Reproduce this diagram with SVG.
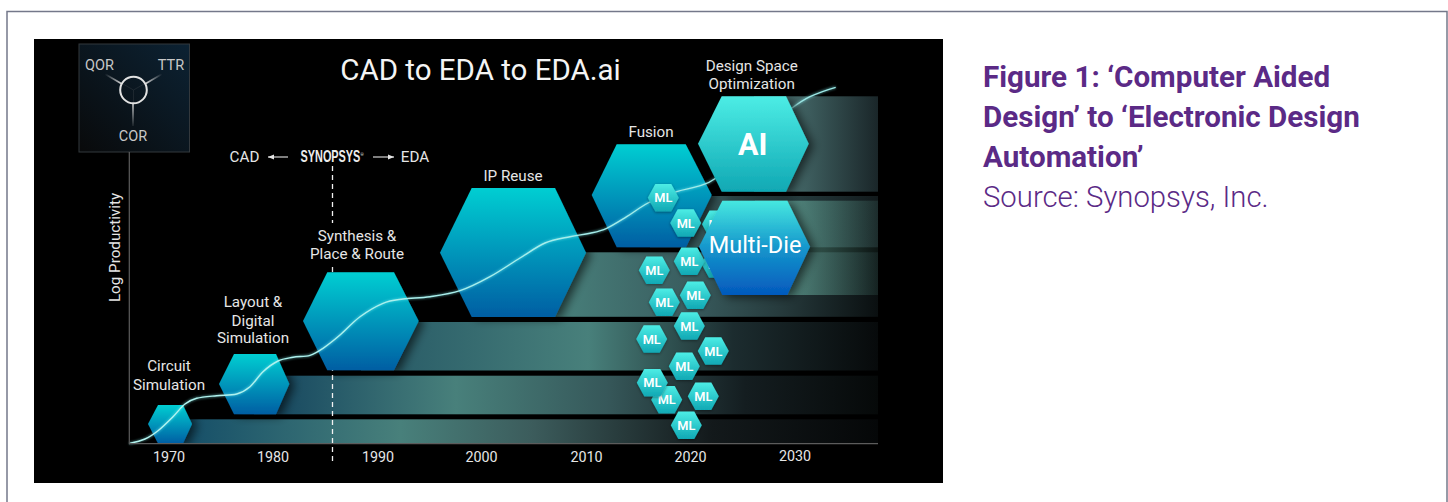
<svg xmlns="http://www.w3.org/2000/svg" width="1448" height="502" viewBox="0 0 1448 502">
<style>
text{font-family:Roboto,"Liberation Sans",sans-serif}
.l{fill:#e6e6e6;font-size:15.2px;text-anchor:middle}
.t{fill:#c8c8c8;font-size:14.5px;text-anchor:middle}
.y{fill:#e6e6e6;font-size:14.3px;text-anchor:middle}
.ml{fill:#fff;font-size:12.8px;font-weight:600;text-anchor:middle}
.h{filter:url(#sh)}
.cap{fill:#5b2a86;font-size:29.6px;font-weight:700}
</style>
<defs>
<linearGradient id="hx" x1="0" y1="0" x2="0" y2="1"><stop offset="0" stop-color="#00ced2"/><stop offset="1" stop-color="#065ea3"/></linearGradient>
<linearGradient id="hm" x1="0" y1="0" x2="0" y2="1"><stop offset="0" stop-color="#4cede5"/><stop offset="1" stop-color="#10a8b4"/></linearGradient>
<linearGradient id="hd" x1="0" y1="0" x2="0" y2="1"><stop offset="0" stop-color="#46e8e0"/><stop offset=".5" stop-color="#1596cc"/><stop offset="1" stop-color="#0459bd"/></linearGradient>
<linearGradient id="b1" gradientUnits="userSpaceOnUse" x1="186" y1="0" x2="878" y2="0"><stop offset="0" stop-color="#164f68"/><stop offset=".31" stop-color="#48807b"/><stop offset=".5" stop-color="#3c5c5c"/><stop offset=".76" stop-color="#13191b"/><stop offset="1" stop-color="#050708"/></linearGradient>
<linearGradient id="b2" gradientUnits="userSpaceOnUse" x1="275" y1="0" x2="878" y2="0"><stop offset="0" stop-color="#174860"/><stop offset=".3" stop-color="#48807b"/><stop offset=".55" stop-color="#36585a"/><stop offset=".78" stop-color="#141d20"/><stop offset="1" stop-color="#060909"/></linearGradient>
<linearGradient id="b3" gradientUnits="userSpaceOnUse" x1="395" y1="0" x2="878" y2="0"><stop offset="0" stop-color="#2a5d68"/><stop offset=".4" stop-color="#48807b"/><stop offset=".7" stop-color="#1c2c2f"/><stop offset="1" stop-color="#070a0b"/></linearGradient>
<linearGradient id="b4" gradientUnits="userSpaceOnUse" x1="556" y1="0" x2="878" y2="0"><stop offset="0" stop-color="#48807b"/><stop offset=".4" stop-color="#3a5e60"/><stop offset=".7" stop-color="#263a3c"/><stop offset="1" stop-color="#0a0f10"/></linearGradient>
<linearGradient id="b5" gradientUnits="userSpaceOnUse" x1="680" y1="0" x2="878" y2="0"><stop offset="0" stop-color="#3e6466"/><stop offset=".6" stop-color="#253a3c"/><stop offset="1" stop-color="#121a1c"/></linearGradient>
<linearGradient id="b6" gradientUnits="userSpaceOnUse" x1="786" y1="0" x2="878" y2="0"><stop offset="0" stop-color="#486e6e"/><stop offset="1" stop-color="#1a2629"/></linearGradient>
<linearGradient id="b7" gradientUnits="userSpaceOnUse" x1="780" y1="0" x2="878" y2="0"><stop offset="0" stop-color="#7cd0bd" stop-opacity=".55"/><stop offset="1" stop-color="#7cd0bd" stop-opacity=".1"/></linearGradient>
<linearGradient id="tile" x1="0" y1="1" x2="1" y2="0"><stop offset="0" stop-color="#090a0b"/><stop offset="1" stop-color="#0c2233"/></linearGradient>
<linearGradient id="s1" gradientUnits="userSpaceOnUse" x1="105" y1="74" x2="122" y2="84"><stop offset="0" stop-color="#ddd" stop-opacity="0"/><stop offset="1" stop-color="#ddd"/></linearGradient>
<linearGradient id="s2" gradientUnits="userSpaceOnUse" x1="162" y1="74" x2="145" y2="84"><stop offset="0" stop-color="#ddd" stop-opacity="0"/><stop offset="1" stop-color="#ddd"/></linearGradient>
<linearGradient id="s3" gradientUnits="userSpaceOnUse" x1="133" y1="126" x2="133" y2="103"><stop offset="0" stop-color="#ddd" stop-opacity=".1"/><stop offset="1" stop-color="#ddd"/></linearGradient>
<filter id="sh" x="-30%" y="-20%" width="170%" height="140%"><feDropShadow dx="5" dy="2" stdDeviation="5" flood-color="#000" flood-opacity=".6"/></filter>
<filter id="gl" x="-5%" y="-5%" width="110%" height="110%"><feGaussianBlur stdDeviation="1.2"/></filter>
<filter id="ms" x="-30%" y="-30%" width="160%" height="160%"><feDropShadow dx="0" dy="1" stdDeviation="1.5" flood-color="#000" flood-opacity=".4"/></filter>
<polygon id="mlh" points="-15.5,0 -8,-13.7 8,-13.7 15.5,0 8,13.7 -8,13.7" fill="url(#hm)" filter="url(#ms)"/>
<marker id="ah" markerWidth="7" markerHeight="6" refX="6" refY="3" orient="auto-start-reverse" markerUnits="userSpaceOnUse"><path d="M0 .5L6 3L0 5.5z" fill="#e6e6e6"/></marker>
<linearGradient id="cv" gradientUnits="userSpaceOnUse" x1="129" y1="0" x2="836" y2="0"><stop offset="0" stop-color="#b4f4f0"/><stop offset="1" stop-color="#9ce8e6"/></linearGradient>
</defs>
<rect x="7" y="11.500" width="1440" height="500" fill="#fff" stroke="#74788a" stroke-width="1.500"/>
<rect x="34" y="39" width="909" height="444" fill="#000"/>
<text x="480.500" y="80" fill="#f4f4f4" font-size="29.500" text-anchor="middle">CAD to EDA to EDA.ai</text>
<g id="tile-box">
<rect x="79" y="44" width="110.500" height="108" fill="url(#tile)" stroke="#33383c"/>
<g stroke-width="1.500" fill="none"><path d="M105 74L122 84" stroke="url(#s1)"/><path d="M162 74L145 84" stroke="url(#s2)"/><path d="M133 103V126" stroke="url(#s3)"/></g>
<path d="M133.500 90L123 84M133.500 90L144 84M133.500 90V103" stroke="#888" stroke-width=".7" opacity=".22"/>
<circle cx="133.500" cy="90" r="13.300" fill="none" stroke="#e2e2e2" stroke-width="2"/>
<text class="t" x="99.500" y="70">QOR</text><text class="t" x="171" y="70">TTR</text><text class="t" x="133" y="140.500">COR</text>
</g>
<text class="l" transform="translate(119.500 247.500) rotate(-90)">Log Productivity</text>
<g id="synopsys-note">
<text class="l" x="244.500" y="162">CAD</text>
<text transform="translate(300.500 162) scale(.681 1)" fill="#ececec" font-size="16px" font-weight="700" style="font-family:'Liberation Sans',sans-serif">SYNOPSYS</text>
<text x="360.500" y="155.500" fill="#ececec" font-size="4px">®</text>
<text class="l" x="415" y="162">EDA</text>
</g>
<g id="bands">
<rect x="170" y="419.300" width="708" height="24.400" fill="url(#b1)"/>
<rect x="254" y="375.700" width="624" height="38.600" fill="url(#b2)"/>
<rect x="361" y="322" width="517" height="48.500" fill="url(#b3)"/>
<rect x="513" y="252.300" width="365" height="64.500" fill="url(#b4)"/>
<rect x="650" y="196" width="228" height="51.300" fill="url(#b5)"/>
<rect x="754" y="96.300" width="124" height="95.400" fill="url(#b6)"/>
<rect x="755" y="200.700" width="123" height="94.300" fill="url(#b7)"/>
</g>
<g id="dashes" stroke="#f2f2f2" stroke-width="1.300" stroke-dasharray="5 4" fill="none"><path d="M332.500 166V223M332.500 267V463"/></g>
<g id="n-circuit"><polygon class="h" points="148,424 158,405 183,405 192,424 183,443.500 158,443.500" fill="url(#hx)"/></g>
<g id="n-layout"><polygon class="h" points="219,384 234,354 276,354 289.300,384 276,414.300 234,414.300" fill="url(#hx)"/></g>
<g id="n-synth"><polygon class="h" points="303,321 327.300,272.300 394,272.300 418.700,321 394,370.300 327.300,370.300" fill="url(#hx)"/></g>
<g id="n-ip"><polygon class="h" points="440,252.700 471.700,188 555,188 586,252.700 555,317 471.700,317" fill="url(#hx)"/></g>
<g id="n-fusion"><polygon class="h" points="591.700,195 616.700,144.300 685.700,144.300 711.700,195 686,247.300 616.700,247.300" fill="url(#hx)"/></g>
<text class="l" x="169" y="371">Circuit</text><text class="l" x="169" y="389.500">Simulation</text>
<text class="l" x="253" y="307">Layout &amp;</text><text class="l" x="253" y="325.500">Digital</text><text class="l" x="253" y="343">Simulation</text>
<text class="l" x="357" y="241">Synthesis &amp;</text><text class="l" x="357" y="259">Place &amp; Route</text>
<text class="l" x="513" y="181">IP Reuse</text><text class="l" x="651" y="136.700">Fusion</text>
<text class="l" x="751.700" y="70.700">Design Space</text><text class="l" x="751.700" y="89">Optimization</text>
<g id="connectors" fill="none">
<path d="M129.300 443.500S140.200 441.100 145 439S153.300 434.400 158 430.700S168.500 421.200 173 416.700S181 407.100 185 404S191.400 399.700 196.700 398.300S210 396.400 216.700 395.700S231.200 395.500 236.700 394S245.600 390.400 250 386.700S258.300 376 263 371.700S273 363.400 278 361S287.700 358.300 293 357.300S305 356.800 310 355.300S318 351.700 323 348.300S333.800 340.300 340 335S352.800 322 360 316.700S375.800 306.300 383 303.300S395.200 300.100 403 299S420.500 298.100 430 296.700S450 294 460 290.700S480 282.200 490 276.700S510.800 263.600 520 258S536.700 246.600 545 243S562.500 238.300 570 236.700S583.900 234.700 590 233.300S600.600 231.100 606.700 228.300S619.800 220.900 626.700 216.700S639.700 207.200 648 203S668.600 194.400 676.700 191.700S690.200 188.900 696.700 186.700S706.200 185.300 715.700 178.300S745 152 754 145S784 114 791.700 108.300S803 100 810 96.700S828 89.500 835.700 87.300" stroke="#8ff" stroke-width="3" opacity=".35" filter="url(#gl)"/>
<path d="M129.300 443.500S140.200 441.100 145 439S153.300 434.400 158 430.700S168.500 421.200 173 416.700S181 407.100 185 404S191.400 399.700 196.700 398.300S210 396.400 216.700 395.700S231.200 395.500 236.700 394S245.600 390.400 250 386.700S258.300 376 263 371.700S273 363.400 278 361S287.700 358.300 293 357.300S305 356.800 310 355.300S318 351.700 323 348.300S333.800 340.300 340 335S352.800 322 360 316.700S375.800 306.300 383 303.300S395.200 300.100 403 299S420.500 298.100 430 296.700S450 294 460 290.700S480 282.200 490 276.700S510.800 263.600 520 258S536.700 246.600 545 243S562.500 238.300 570 236.700S583.900 234.700 590 233.300S600.600 231.100 606.700 228.300S619.800 220.900 626.700 216.700S639.700 207.200 648 203S668.600 194.400 676.700 191.700S690.200 188.900 696.700 186.700S706.200 185.300 715.700 178.300S745 152 754 145S784 114 791.700 108.300S803 100 810 96.700S828 89.500 835.700 87.300" stroke="url(#cv)" stroke-width="1.400"/>
<path d="M129.300 152V443.700H878" stroke="#5c5c5c" stroke-width="1.200"/>
<path d="M288 157H268" stroke="#e6e6e6" stroke-width="1.100" marker-end="url(#ah)"/>
<path d="M373 157H394" stroke="#e6e6e6" stroke-width="1.100" marker-end="url(#ah)"/>
</g>
<g id="ml-behind-1" transform="translate(717.500 224.300)"><use href="#mlh"/><text class="ml" y="4.500">ML</text></g>
<g id="ml-behind-2" transform="translate(717 264)"><use href="#mlh"/><text class="ml" y="4.500">ML</text></g>
<g id="ml-1" transform="translate(663.300 197.700)"><use href="#mlh"/><text class="ml" y="4.500">ML</text></g>
<g id="ml-2" transform="translate(685.700 223)"><use href="#mlh"/><text class="ml" y="4.500">ML</text></g>
<g id="ml-3" transform="translate(689.300 261.200)"><use href="#mlh"/><text class="ml" y="4.500">ML</text></g>
<g id="ml-4" transform="translate(654.300 270.300)"><use href="#mlh"/><text class="ml" y="4.500">ML</text></g>
<g id="ml-5" transform="translate(664.300 302.300)"><use href="#mlh"/><text class="ml" y="4.500">ML</text></g>
<g id="ml-6" transform="translate(695.300 295.300)"><use href="#mlh"/><text class="ml" y="4.500">ML</text></g>
<g id="ml-7" transform="translate(689.300 326)"><use href="#mlh"/><text class="ml" y="4.500">ML</text></g>
<g id="ml-8" transform="translate(651.700 339)"><use href="#mlh"/><text class="ml" y="4.500">ML</text></g>
<g id="ml-9" transform="translate(713.300 351)"><use href="#mlh"/><text class="ml" y="4.500">ML</text></g>
<g id="ml-10" transform="translate(684.300 366.300)"><use href="#mlh"/><text class="ml" y="4.500">ML</text></g>
<g id="ml-11" transform="translate(666.700 399.700)"><use href="#mlh"/><text class="ml" y="4.500">ML</text></g>
<g id="ml-12" transform="translate(652.300 382.700)"><use href="#mlh"/><text class="ml" y="4.500">ML</text></g>
<g id="ml-13" transform="translate(703.300 396.300)"><use href="#mlh"/><text class="ml" y="4.500">ML</text></g>
<g id="ml-14" transform="translate(686.300 425.300)"><use href="#mlh"/><text class="ml" y="4.500">ML</text></g>
<g id="n-ai"><polygon class="h" points="698,143.700 721.700,96.300 786,96.300 808.700,143.700 786,191.700 721.700,191.700" fill="url(#hm)"/><text x="752.700" y="155" fill="#fff" font-size="30.500" font-weight="700" text-anchor="middle">AI</text></g>
<g id="n-multidie"><polygon class="h" points="699,246.700 722.300,200.700 787.300,200.700 810,246.700 787.300,295 722.300,295" fill="url(#hd)"/><text x="755" y="253.300" fill="#fff" font-size="23.500" text-anchor="middle">Multi-Die</text></g>
<g id="years">
<text class="y" x="169" y="461.700">1970</text><text class="y" x="273" y="461.700">1980</text><text class="y" x="378" y="461.700">1990</text><text class="y" x="481.500" y="462">2000</text><text class="y" x="586.500" y="462">2010</text><text class="y" x="690.500" y="462">2020</text><text class="y" x="795" y="460.700">2030</text>
</g>
<g id="caption">
<text class="cap" x="983" y="86.700">Figure 1: ‘Computer Aided</text>
<text class="cap" x="983" y="126.700">Design’ to ‘Electronic Design</text>
<text class="cap" x="983" y="166.700">Automation’</text>
<text x="983" y="206.700" fill="#5b2a86" font-size="29.300" font-weight="300">Source: Synopsys, Inc.</text>
</g>
</svg>
